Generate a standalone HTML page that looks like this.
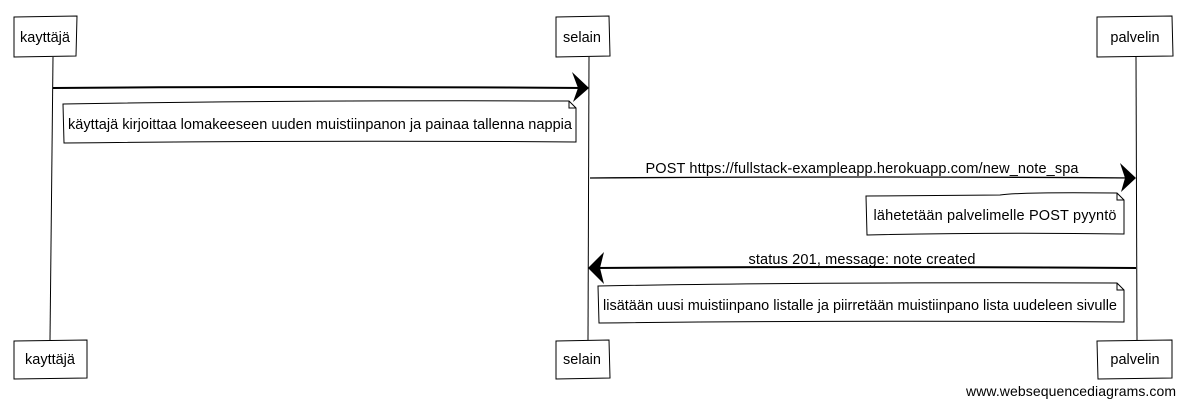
<!DOCTYPE html>
<html><head><meta charset="utf-8"><style>
html,body{margin:0;padding:0;background:#fff;}
svg{display:block;}
text{font-family:"Liberation Sans",sans-serif;font-size:14.5px;fill:#000;}
</style></head><body>
<svg width="1185" height="405" viewBox="0 0 1185 405" xmlns="http://www.w3.org/2000/svg">
<g fill="none" stroke="#000" stroke-width="1">
<path d="M53 57 L50 340"/>
<path d="M589 57 L588 340"/>
<path d="M1136 57 L1137 340"/>
<path d="M14 17 L77 16 L76 56 L14 57 Z" fill="#fff"/>
<path d="M556 17 L609 16 L610 56 L556 57 Z" fill="#fff"/>
<path d="M1097 17 L1172 16 L1173 56 L1097 57 Z" fill="#fff"/>
<path d="M14 341 L87 340 L87 378 L14 379 Z" fill="#fff"/>
<path d="M556 341 L609 340 L610 378 L556 379 Z" fill="#fff"/>
<path d="M1097 341 L1172 340 L1172 378 L1098 379 Z" fill="#fff"/>
<path d="M53 88 Q300 86 585 88" stroke-width="2"/>
<path d="M63 104 Q300 100 569 101 L576 108 L576 142 Q320 140 64 143 Z" fill="#fff"/>
<path d="M569 101 L569 108 L576 108"/>
<path d="M590 178 Q860 176 1133 178" stroke-width="1.3"/>
<path d="M866 196 L1000 195 Q1020 192 1117 193 L1124 200 L1124 234 Q1000 232 867 235 Z" fill="#fff"/>
<path d="M1117 193 L1117 200 L1124 200"/>
<path d="M1136 268 Q860 266 593 268" stroke-width="2"/>
<path d="M598 286 Q800 282 1117 283 L1124 290 L1124 322 Q860 320 599 323 Z" fill="#fff"/>
<path d="M1117 283 L1117 290 L1124 290"/>
</g>
<g fill="#000">
<path d="M572 72 L589 88 L573 102 L578 88 Z"/>
<path d="M1120 163 L1136 178 L1121 192 L1125 178 Z"/>
<path d="M604 252 L588 268 L604 284 L600 268 Z"/>
</g>
<text x="45" y="42" text-anchor="middle">kayttäjä</text>
<text x="582" y="42" text-anchor="middle">selain</text>
<text x="1135" y="42" text-anchor="middle">palvelin</text>
<text x="50" y="364" text-anchor="middle">kayttäjä</text>
<text x="582" y="364" text-anchor="middle">selain</text>
<text x="1135" y="364" text-anchor="middle">palvelin</text>
<text x="320" y="129" text-anchor="middle" textLength="504">käyttajä kirjoittaa lomakeeseen uuden muistiinpanon ja painaa tallenna nappia</text>
<text x="862" y="173" text-anchor="middle" textLength="433">POST https://fullstack-exampleapp.herokuapp.com/new_note_spa</text>
<text x="995" y="220" text-anchor="middle" textLength="243">lähetetään palvelimelle POST pyyntö</text>
<text x="862" y="264" text-anchor="middle" textLength="227">status 201, message: note created</text>
<text x="860" y="310" text-anchor="middle" textLength="514">lisätään uusi muistiinpano listalle ja piirretään muistiinpano lista uudeleen sivulle</text>
<text x="1176" y="396" text-anchor="end" style="font-size:14px" textLength="210">www.websequencediagrams.com</text>
</svg>
</body></html>
